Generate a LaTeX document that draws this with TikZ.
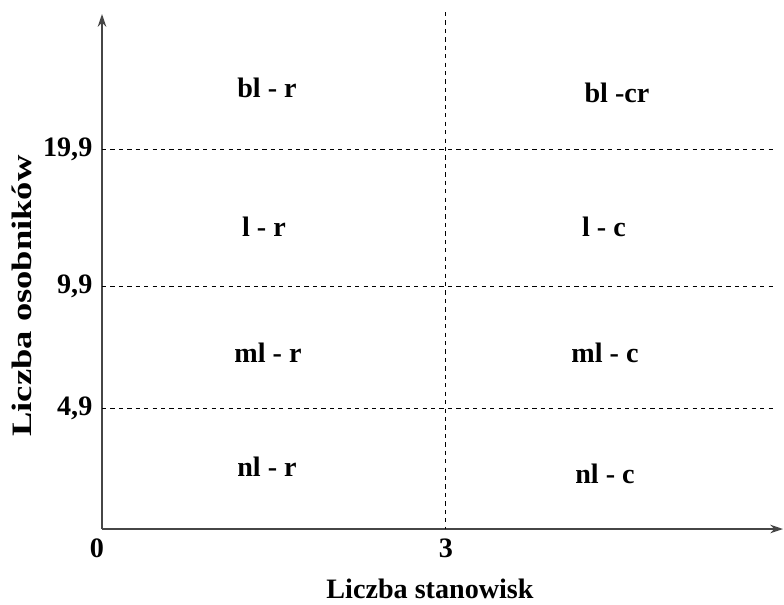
\documentclass[tikz,border=0pt]{standalone}
\usepackage{fontspec}
\setmainfont{Liberation Serif}
\usepackage{tikz}
\usetikzlibrary{arrows.meta, positioning}
\definecolor{axisgray}{RGB}{70, 70, 70}

\tikzset{
    axisline/.style={draw=axisgray, line width=1.2pt, -{Stealth[length=9pt, width=6pt]}},
    gridline/.style={black, dashed, line width=0.6pt},
    zonelabel/.style={font=\fontsize{20}{22}\selectfont\bfseries},
    ticklabel/.style={font=\fontsize{20}{22}\selectfont\bfseries},
    axistitle/.style={font=\fontsize{20}{22}\selectfont\bfseries}
}

\begin{document}
\begin{tikzpicture}[x=0.025cm, y=-0.025cm]
    \useasboundingbox (0,0) rectangle (784,605);

    % Axes
    \coordinate (origin) at (102,529);
    \coordinate (ytop) at (102,14);
    \coordinate (xend) at (783,529);
    \draw[axisline] (origin) -- (ytop);
    \draw[axisline] (origin) -- (xend);

    % Grid
    \coordinate (vtop) at (445,12);
    \coordinate (vbot) at (445,529);
    \draw[gridline] (vtop) -- (vbot);
    \foreach \y/\name in {149/a, 286/b, 408/c} {
        \coordinate (h\name1) at (102,\y);
        \coordinate (h\name2) at (776,\y);
        \draw[gridline] (h\name1) -- (h\name2);
    }

    % Tick labels
    \node[ticklabel, anchor=east, inner sep=1pt] (t199) at (94,149) {19,9};
    \node[ticklabel, anchor=east, inner sep=1pt] (t99) at (94,286) {9,9};
    \node[ticklabel, anchor=east, inner sep=1pt] (t49) at (94,408) {4,9};
    \node[ticklabel] (t0) at (97,548) {0};
    \node[ticklabel] (t3) at (446,548) {3};

    % Axis titles
    \node[axistitle] (xtitle) at (430,589) {Liczba stanowisk};
    \node[axistitle, rotate=90] (ytitle) at (22,296) {\scalebox{1.3}[1]{Liczba osobników}};

    % Zones
    \node[zonelabel] (blr) at (267,88) {bl - r};
    \node[zonelabel] (blcr) at (617,93) {bl -cr};
    \node[zonelabel] (lr) at (264,227) {l - r};
    \node[zonelabel] (lc) at (604,227) {l - c};
    \node[zonelabel] (mlr) at (268,353) {ml - r};
    \node[zonelabel] (mlc) at (605,353) {ml - c};
    \node[zonelabel] (nlr) at (267,467) {nl - r};
    \node[zonelabel] (nlc) at (605,474) {nl - c};
\end{tikzpicture}
\end{document}
